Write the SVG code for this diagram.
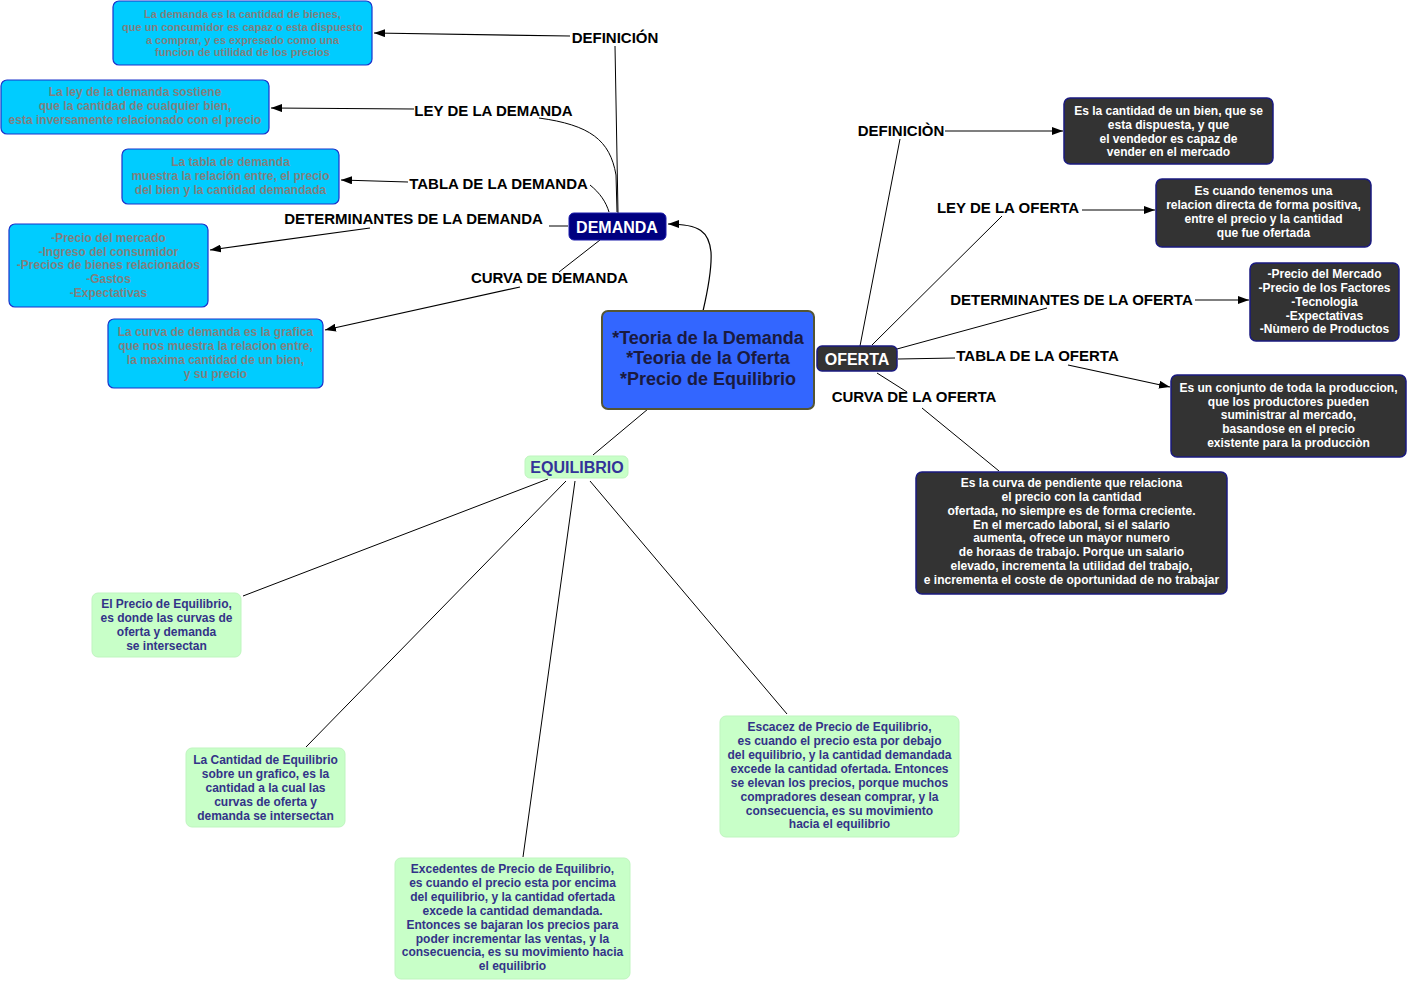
<svg xmlns="http://www.w3.org/2000/svg" width="1408" height="983" viewBox="0 0 1408 983">
<defs>
<marker id="arr" viewBox="0 0 11 8" refX="11" refY="4" markerWidth="11" markerHeight="8" markerUnits="userSpaceOnUse" orient="auto">
<path d="M0,0 L11,4 L0,8 z" fill="#000"/>
</marker>
<style>
text{font-family:"Liberation Sans",Arial,sans-serif;font-weight:bold;text-anchor:middle}
.blue rect{fill:#00ccff;stroke:#1a33cc;stroke-width:1.2}
.blue text{fill:#808080;font-size:12px}
.blue text.sm{font-size:11px}
.dark rect{fill:#333333;stroke:#1a1a80;stroke-width:1.5}
.dark text{fill:#ffffff;font-size:12px}
.green rect{fill:#c8ffc8;stroke:#bff5bf;stroke-width:1}
.green text{fill:#333388;font-size:12px}
.lbl{font-size:15px;fill:#000}
.c{fill:none;stroke:#000;stroke-width:1}
.a{fill:none;stroke:#000;stroke-width:1.2;marker-end:url(#arr)}
</style>
</defs>
<rect width="1408" height="983" fill="#fff"/>

<g id="connectors">
<path class="a" d="M703,311 C709,285 712,268 711,252 C709,232 700,224 668,224"/>
<line class="c" x1="648" y1="409" x2="593" y2="455"/>
<line class="c" x1="618" y1="213" x2="615" y2="46"/>
<line class="a" x1="570" y1="36" x2="374" y2="33"/>
<path class="c" d="M539,118 C590,125 610,140 616,175 L617,212"/>
<line class="a" x1="414" y1="109" x2="271" y2="108"/>
<path class="c" d="M590,185 C600,193 606,202 609,212"/>
<line class="a" x1="408" y1="182" x2="341" y2="180"/>
<line class="c" x1="549" y1="226" x2="568" y2="226"/>
<line class="a" x1="370" y1="228" x2="210" y2="250"/>
<line class="c" x1="600" y1="240" x2="559" y2="272"/>
<line class="a" x1="520" y1="287" x2="325" y2="330"/>
<line class="c" x1="860" y1="346" x2="900" y2="139"/>
<line class="a" x1="945" y1="131" x2="1063" y2="131"/>
<line class="c" x1="872" y1="345" x2="1002" y2="216"/>
<line class="a" x1="1082" y1="210" x2="1155" y2="210"/>
<line class="c" x1="897" y1="349" x2="1047" y2="308"/>
<line class="a" x1="1195" y1="300" x2="1249" y2="300"/>
<line class="c" x1="898" y1="359" x2="955" y2="358"/>
<line class="a" x1="1068" y1="365" x2="1170" y2="387"/>
<line class="c" x1="877" y1="373" x2="907" y2="392"/>
<line class="c" x1="922" y1="408" x2="999" y2="471"/>
<line class="c" x1="548" y1="479" x2="243" y2="596"/>
<line class="c" x1="566" y1="481" x2="306" y2="747"/>
<line class="c" x1="575" y1="481" x2="523" y2="857"/>
<line class="c" x1="590" y1="481" x2="787" y2="714"/>
<text class="lbl" x="615" y="43">DEFINICIÓN</text>
<text class="lbl" x="493.5" y="116">LEY DE LA DEMANDA</text>
<text class="lbl" x="498.5" y="189">TABLA DE LA DEMANDA</text>
<text class="lbl" x="413.5" y="224">DETERMINANTES DE LA DEMANDA</text>
<text class="lbl" x="549.5" y="283">CURVA DE DEMANDA</text>
<text class="lbl" x="901" y="136">DEFINICIÒN</text>
<text class="lbl" x="1008" y="213">LEY DE LA OFERTA</text>
<text class="lbl" x="1071.5" y="305">DETERMINANTES DE LA OFERTA</text>
<text class="lbl" x="1037.5" y="361">TABLA DE LA OFERTA</text>
<text class="lbl" x="914" y="402">CURVA DE LA OFERTA</text>
</g>

<g id="center">
<rect x="602" y="311" width="212" height="98" rx="6" fill="#3366ff" stroke="#555533" stroke-width="2"/>
<text x="708" y="344" font-size="18" fill="#1a1a40">*Teoria de la Demanda</text>
<text x="708" y="364" font-size="18" fill="#1a1a40">*Teoria de la Oferta</text>
<text x="708" y="385" font-size="18" fill="#1a1a40">*Precio de Equilibrio</text>
</g>
<g id="demanda">
<rect x="569" y="213" width="97" height="27" rx="5" fill="#000080" stroke="#1a1aaa" stroke-width="1"/>
<text x="617" y="233" font-size="16" fill="#fff">DEMANDA</text>
</g>
<g id="oferta">
<rect x="817" y="346" width="80" height="25" rx="5" fill="#333333" stroke="#1a1a80" stroke-width="1.5"/>
<text x="857" y="365" font-size="16" fill="#fff">OFERTA</text>
</g>
<g id="equilibrio">
<rect x="525" y="456" width="103" height="22" rx="5" fill="#c8ffc8" stroke="#bff5bf"/>
<text x="577" y="473" font-size="16" fill="#333399">EQUILIBRIO</text>
</g>

<g id="d-definicion" class="blue">
<rect x="113" y="1" width="259" height="64" rx="6"/>
<text class="sm" x="242.5" y="18">La demanda es la cantidad de bienes,</text>
<text class="sm" x="242.5" y="31">que un concumidor es capaz o esta dispuesto</text>
<text class="sm" x="242.5" y="44">a comprar, y es expresado como una</text>
<text class="sm" x="242.5" y="56">funcion de utilidad de los precios</text>
</g>
<g id="d-ley" class="blue">
<rect x="1" y="80" width="268" height="54" rx="6"/>
<text x="135" y="96">La ley de la demanda sostiene</text>
<text x="135" y="110">que la cantidad de cualquier bien,</text>
<text x="135" y="124">esta inversamente relacionado con el precio</text>
</g>
<g id="d-tabla" class="blue">
<rect x="122" y="149" width="217" height="55" rx="6"/>
<text x="230.5" y="166">La tabla de demanda</text>
<text x="230.5" y="180">muestra la relación entre, el precio</text>
<text x="230.5" y="194">del bien y la cantidad demandada</text>
</g>
<g id="d-determinantes" class="blue">
<rect x="9" y="224" width="199" height="83" rx="6"/>
<text x="108.5" y="242">-Precio del mercado</text>
<text x="108.5" y="256">-Ingreso del consumidor</text>
<text x="108.5" y="269">-Precios de bienes relacionados</text>
<text x="108.5" y="283">-Gastos</text>
<text x="108.5" y="297">-Expectativas</text>
</g>
<g id="d-curva" class="blue">
<rect x="108" y="319" width="215" height="69" rx="6"/>
<text x="215.5" y="336">La curva de demanda es la grafica</text>
<text x="215.5" y="350">que nos muestra la relacion entre,</text>
<text x="215.5" y="364">la maxima cantidad de un bien,</text>
<text x="215.5" y="378">y su precio</text>
</g>

<g id="o-definicion" class="dark">
<rect x="1064" y="98" width="209" height="66" rx="6"/>
<text x="1168.5" y="115">Es la cantidad de un bien, que se</text>
<text x="1168.5" y="129">esta dispuesta, y que</text>
<text x="1168.5" y="143">el vendedor es capaz de</text>
<text x="1168.5" y="156">vender en el mercado</text>
</g>
<g id="o-ley" class="dark">
<rect x="1156" y="179" width="215" height="68" rx="6"/>
<text x="1263.5" y="195">Es cuando tenemos una</text>
<text x="1263.5" y="209">relacion directa de forma positiva,</text>
<text x="1263.5" y="223">entre el precio y la cantidad</text>
<text x="1263.5" y="237">que fue ofertada</text>
</g>
<g id="o-determinantes" class="dark">
<rect x="1250" y="263" width="149" height="78" rx="6"/>
<text x="1324.5" y="278">-Precio del Mercado</text>
<text x="1324.5" y="292">-Precio de los Factores</text>
<text x="1324.5" y="306">-Tecnologia</text>
<text x="1324.5" y="320">-Expectativas</text>
<text x="1324.5" y="333">-Nùmero de Productos</text>
</g>
<g id="o-tabla" class="dark">
<rect x="1171" y="375" width="235" height="82" rx="6"/>
<text x="1288.5" y="392">Es un conjunto de toda la produccion,</text>
<text x="1288.5" y="406">que los productores pueden</text>
<text x="1288.5" y="419">suministrar al mercado,</text>
<text x="1288.5" y="433">basandose en el precio</text>
<text x="1288.5" y="447">existente para la producciòn</text>
</g>
<g id="o-curva" class="dark">
<rect x="916" y="472" width="311" height="122" rx="6"/>
<text x="1071.5" y="487">Es la curva de pendiente que relaciona</text>
<text x="1071.5" y="501">el precio con la cantidad</text>
<text x="1071.5" y="515">ofertada, no siempre es de forma creciente.</text>
<text x="1071.5" y="529">En el mercado laboral, si el salario</text>
<text x="1071.5" y="542">aumenta, ofrece un mayor numero</text>
<text x="1071.5" y="556">de horaas de trabajo. Porque un salario</text>
<text x="1071.5" y="570">elevado, incrementa la utilidad del trabajo,</text>
<text x="1071.5" y="584">e incrementa el coste de oportunidad de no trabajar</text>
</g>

<g id="e-precio" class="green">
<rect x="92" y="593" width="149" height="64" rx="6"/>
<text x="166.5" y="608">El Precio de Equilibrio,</text>
<text x="166.5" y="622">es donde las curvas de</text>
<text x="166.5" y="636">oferta y demanda</text>
<text x="166.5" y="650">se intersectan</text>
</g>
<g id="e-cantidad" class="green">
<rect x="186" y="748" width="159" height="79" rx="6"/>
<text x="265.5" y="764">La Cantidad de Equilibrio</text>
<text x="265.5" y="778">sobre un grafico, es la</text>
<text x="265.5" y="792">cantidad a la cual las</text>
<text x="265.5" y="806">curvas de oferta y</text>
<text x="265.5" y="820">demanda se intersectan</text>
</g>
<g id="e-excedentes" class="green">
<rect x="395" y="858" width="235" height="121" rx="6"/>
<text x="512.5" y="873">Excedentes de Precio de Equilibrio,</text>
<text x="512.5" y="887">es cuando el precio esta por encima</text>
<text x="512.5" y="901">del equilibrio, y la cantidad ofertada</text>
<text x="512.5" y="915">excede la cantidad demandada.</text>
<text x="512.5" y="929">Entonces se bajaran los precios para</text>
<text x="512.5" y="943">poder incrementar las ventas, y la</text>
<text x="512.5" y="956">consecuencia, es su movimiento hacia</text>
<text x="512.5" y="970">el equilibrio</text>
</g>
<g id="e-escacez" class="green">
<rect x="720" y="716" width="239" height="121" rx="6"/>
<text x="839.5" y="731">Escacez de Precio de Equilibrio,</text>
<text x="839.5" y="745">es cuando el precio esta por debajo</text>
<text x="839.5" y="759">del equilibrio, y la cantidad demandada</text>
<text x="839.5" y="773">excede la cantidad ofertada. Entonces</text>
<text x="839.5" y="787">se elevan los precios, porque muchos</text>
<text x="839.5" y="801">compradores desean comprar, y la</text>
<text x="839.5" y="815">consecuencia, es su movimiento</text>
<text x="839.5" y="828">hacia el equilibrio</text>
</g>
</svg>
